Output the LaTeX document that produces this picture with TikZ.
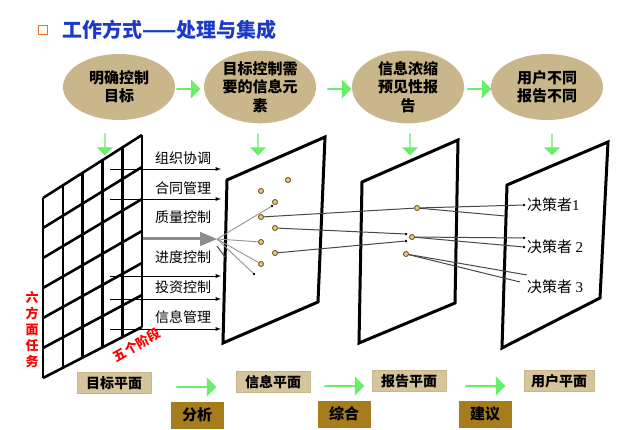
\documentclass[tikz,border=0pt]{standalone}
\usepackage{fontspec}
\setmainfont{Noto Sans CJK SC}
\newfontfamily\numfont{Liberation Serif}
\usetikzlibrary{shapes.geometric,shapes.arrows,arrows}

\definecolor{tanfill}{RGB}{201,182,139}
\definecolor{tanlight}{RGB}{214,196,156}
\definecolor{tandark}{RGB}{166,124,28}
\definecolor{grn}{RGB}{104,238,104}
\definecolor{titleblue}{RGB}{28,58,200}
\definecolor{boxorange}{RGB}{240,110,30}
\definecolor{dotring}{RGB}{120,88,30}
\definecolor{dotfill}{RGB}{232,205,130}

\tikzset{
  goal/.style={ellipse,fill=tanfill,minimum width=112pt,minimum height=66pt,
    inner sep=0pt,align=center,font=\bfseries\fontsize{15}{18.5}\selectfont},
  grarrow/.style={single arrow,fill=grn,draw=none,minimum height=24pt,
    minimum width=19pt,single arrow head extend=2pt,inner sep=0pt},
  plane/.style={line width=3pt,line join=miter},
  task/.style={font=\fontsize{14}{14}\selectfont},
  dot/.style={circle,draw=dotring,fill=dotfill,line width=0.9pt,inner sep=0pt,minimum size=5pt},
  bdot/.style={circle,fill=black,inner sep=0pt,minimum size=2.6pt},
  conn/.style={draw=black!72,line width=1pt},
  fan/.style={draw=black!42,line width=0.9pt},
  planelabel/.style={fill=tanlight,draw=tanfill,minimum width=74pt,minimum height=21pt,
    inner sep=0pt,font=\bfseries\fontsize{14}{14}\selectfont},
  steplabel/.style={fill=tandark,minimum width=53pt,minimum height=27pt,
    inner sep=0pt,font=\bfseries\fontsize{15}{15}\selectfont},
  redtext/.style={text=red,font=\bfseries\fontsize{13}{16}\selectfont}
}

\begin{document}
\begin{tikzpicture}[x=1pt,y=-1pt,>=latex]
  \useasboundingbox[fill=white] (0,0) rectangle (640,430);
%% title
  \node[draw=boxorange,line width=1.6pt,minimum size=9pt,inner sep=0pt] (bullet) at (43,30) {};
  \node[anchor=west,inner sep=0pt,text=titleblue,font=\bfseries\fontsize{20}{20}\selectfont]
    (title) at (62,30) {工作方式——处理与集成};
%% goal ellipses
  \node[goal] (g1) at (119,87) {明确控制\\目标};
  \node[goal] (g2) at (260,87) {目标控制需\\要的信息元\\素};
  \node[goal] (g3) at (408,87) {信息浓缩\\预见性报\\告};
  \node[goal] (g4) at (547,87) {用户不同\\报告不同};
  \node[grarrow] (a12) at (188,89) {};
  \node[grarrow] (a23) at (339,89) {};
  \node[grarrow] (a34) at (479,89) {};
  \foreach \x/\n in {105/1,258/2,410/3,552/4}
    \node[grarrow,shape border rotate=270,minimum height=22pt,minimum width=16pt] (d\n) at (\x,144) {};
%% target plane: grid of tasks and stages
  \foreach \i in {0,...,5}
    \draw[line width=2.6pt] (43+\i*19.8,198-\i*12.6) -- (43+\i*19.8,378-\i*10.2);
  \foreach \j in {0,...,6}
    \draw[line width=2.6pt] (43,198+\j*30) -- (142,135+\j*32);
  \foreach \y/\n in {169/1,199/2,276/4,299/5,329/6} {
    \coordinate (s\n) at (110,\y);
    \coordinate (e\n) at (221,\y);
    \draw[->,line width=0.9pt] (s\n) -- (e\n);
  }
  \coordinate (s3) at (143,239);
  \coordinate (e3) at (217,239);
  \draw[-triangle 45,line width=3pt,draw=black!45] (s3) -- (e3);
  \node[task] (t1) at (183,158) {组织协调};
  \node[task] (t2) at (183,188) {合同管理};
  \node[task] (t3) at (183,217) {质量控制};
  \node[task] (t4) at (183,257) {进度控制};
  \node[task] (t5) at (183,287) {投资控制};
  \node[task] (t6) at (183,317) {信息管理};
  \node[redtext,align=center] (six) at (32,330) {六\\方\\面\\任\\务};
  \node[redtext,rotate=30] (five) at (137,345) {五个阶段};
%% the other three planes
  \draw[plane] (227,180) -- (325,137) -- (318,302) -- (223,343) -- cycle;
  \draw[plane] (362,182) -- (458,140) -- (455,303) -- (359,343) -- cycle;
  \draw[plane] (507,185) -- (608,142) -- (600,298) -- (502,348) -- cycle;
%% information points
  \node[dot] (p2a) at (288,180) {};
  \node[dot] (p2b) at (261,191) {};
  \node[dot] (p2c) at (275,202) {};
  \node[dot] (p2d) at (261,217) {};
  \node[dot] (p2e) at (275,228) {};
  \node[dot] (p2f) at (261,242) {};
  \node[dot] (p2g) at (275,253) {};
  \node[dot] (p2h) at (261,264) {};
  \node[bdot] (p2x) at (272,206) {};
  \node[bdot] (p2y) at (254,274) {};
  \draw[fan] (e3) -- (p2x);
  \draw[fan] (e3) -- (p2f);
  \draw[fan] (e3) -- (p2h);
  \draw[fan] (e3) -- (p2y);
  \coordinate (e3b) at (225,257);
  \draw[conn] (217,246) -- (e3b);
%% report points
  \node[dot] (p3a) at (417,208) {};
  \node[dot] (p3b) at (412,237) {};
  \node[dot] (p3c) at (406,254) {};
  \node[bdot] (q3a) at (406,234) {};
  \node[bdot] (q3b) at (406,241) {};
  \draw[conn] (p2d) -- (p3a);
  \draw[conn] (p2e) -- (q3a);
  \draw[conn] (p2g) -- (q3b);
%% users
  \node[bdot] (u1) at (524,205) {};
  \node[bdot] (u2a) at (524,238) {};
  \node[bdot] (u2b) at (524,247) {};
  \coordinate (u1b) at (505,216);
  \coordinate (u3a) at (527,275);
  \coordinate (u3b) at (520,282);
  \draw[conn] (p3a) -- (u1);
  \draw[conn] (p3a) -- (u1b);
  \draw[conn] (p3b) -- (u2a);
  \draw[conn] (p3b) -- (u2b);
  \draw[conn] (p3c) -- (u3a);
  \draw[conn] (p3c) -- (u3b);
  \node[task,anchor=west,inner sep=0pt,font=\fontsize{15}{15}\selectfont] (k1) at (527,205) {决策者{\numfont 1}};
  \node[task,anchor=west,inner sep=0pt,font=\fontsize{15}{15}\selectfont] (k2) at (527,247) {决策者 {\numfont 2}};
  \node[task,anchor=west,inner sep=0pt,font=\fontsize{15}{15}\selectfont] (k3) at (527,287) {决策者 {\numfont 3}};
%% plane names and steps
  \node[planelabel] (n1) at (114,383) {目标平面};
  \node[planelabel] (n2) at (273,382) {信息平面};
  \node[planelabel] (n3) at (409,381) {报告平面};
  \node[planelabel,minimum width=70pt] (n4) at (559,381) {用户平面};
  \node[grarrow,minimum height=40pt] (b12) at (196,387) {};
  \node[grarrow,minimum height=40pt] (b23) at (344,386) {};
  \node[grarrow,minimum height=40pt] (b34) at (485,386) {};
  \node[steplabel] (m1) at (197,415) {分析};
  \node[steplabel] (m2) at (344,414) {综合};
  \node[steplabel] (m3) at (485,414) {建议};
\end{tikzpicture}
\end{document}
